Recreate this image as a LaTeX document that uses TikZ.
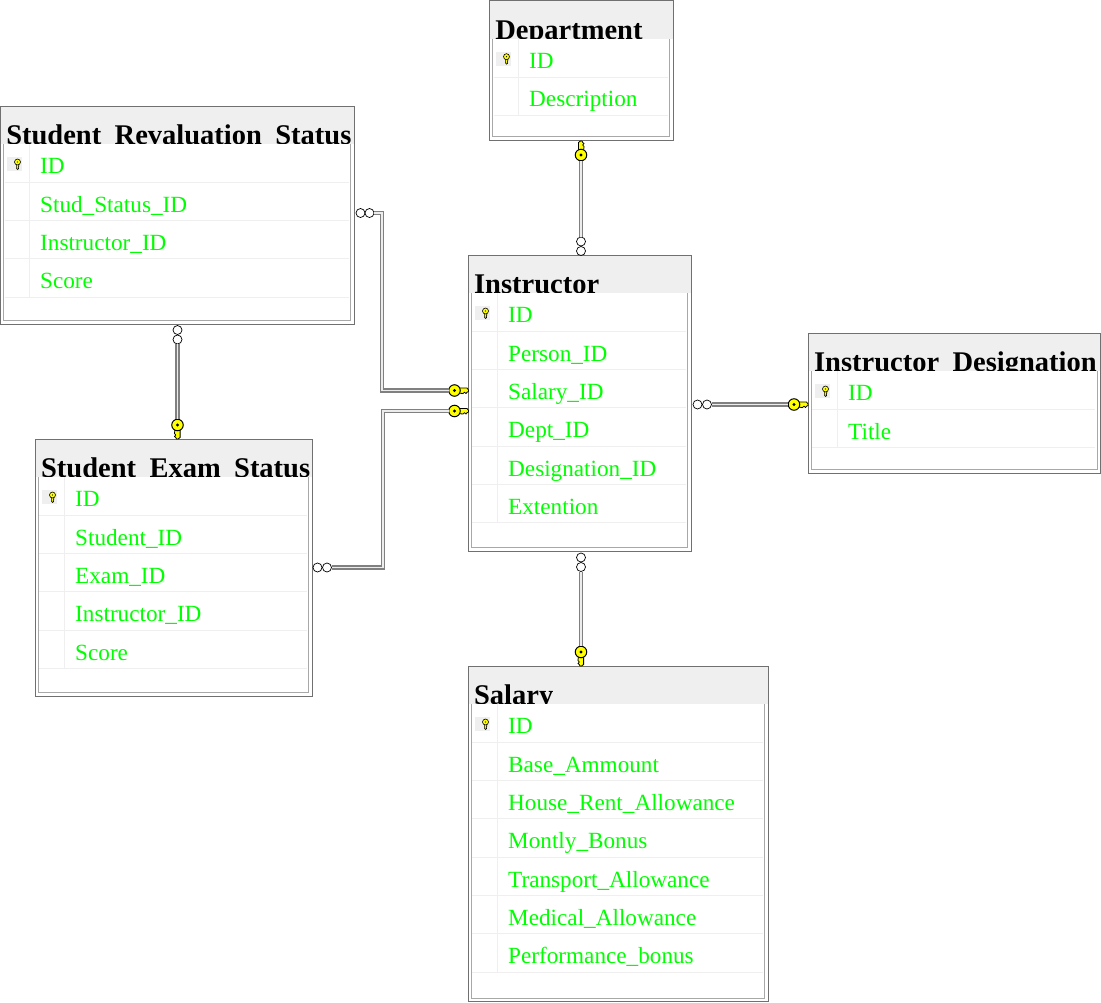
\documentclass[tikz,border=0pt]{standalone}
\usepackage{fontspec}
\setmainfont{Liberation Serif}
\usetikzlibrary{calc}
\definecolor{fieldgreen}{HTML}{00FF00}
\definecolor{headgray}{HTML}{EFEFEF}
\definecolor{outergray}{HTML}{707070}
\definecolor{innergray}{HTML}{A8A8A8}
\definecolor{keyyellow}{HTML}{FFFF00}
\tikzset{
  tableframe/.style={draw=outergray,line width=1pt,fill=white,rectangle,inner sep=0pt,outer sep=0pt},
  tabletitle/.style={anchor=base west,inner sep=0pt,font=\fontsize{28.5}{30}\selectfont\bfseries},
  fieldtext/.style={anchor=base west,inner sep=0pt,text=fieldgreen,font=\fontsize{23.2}{26}\selectfont},
  rowrule/.style={draw=headgray,line width=1pt},
  inframe/.style={draw=innergray,line width=1.1pt},
  crow/.style={circle,draw=black,fill=white,line width=0.7pt,minimum size=9pt,inner sep=0pt,outer sep=0pt},
  keybowl/.style={circle,draw=black,fill=keyyellow,line width=1pt,minimum size=11.5pt,inner sep=0pt,outer sep=0pt},
  link/.style={draw=gray,line width=1.3pt,double=white!85!gray,double distance=1.6pt},
  keyshaft/.style={draw=black,fill=keyyellow,line width=0.8pt,line join=round},
}
% key with its bowl node #1 at (#2,#3), shaft pointing in direction #4
\newcommand{\bigkey}[4]{%
  \begin{scope}[shift={(#2,#3)},rotate=#4]
    \path[keyshaft] (4,-2.6) -- (12.5,-2.6) -- (14,-0.5) -- (14,1) -- (12.5,1.7) -- (11.5,3) -- (10,1.7) -- (8.5,3) -- (4,2.6) -- cycle;
    \node[keybowl] (#1) at (0,0) {};
    \fill[black] (0,0) circle (1.7);
  \end{scope}}
% name, x0, y0, x1, y1, title, vx, field list
\newcommand{\dbtable}[8]{%
  \pgfmathsetmacro{\tw}{#4-#2}
  \pgfmathsetmacro{\th}{#5-#3}
  \pgfmathsetmacro{\hb}{#3+38}
  \node[tableframe,minimum width=\tw pt,minimum height=\th pt] (#1) at ({(#2+#4)/2},{(#3+#5)/2}) {};
  \fill[headgray] (#2+0.5,#3+0.5) rectangle (#4-0.5,\hb);
  \node[tabletitle] (#1title) at (#2+5.4,\hb+0.5) {\spaceskip=0.47em #6};
  \fill[white] (#2+3.2,\hb) rectangle (#4-3.2,#5-3.2);
  \draw[inframe] (#2+3.2,\hb) -- (#2+3.2,#5-3.2) -- (#4-3.2,#5-3.2) -- (#4-3.2,\hb);
  \fill[headgray] (#7-22,\hb+13) rectangle (#7-7,\hb+27);
  \begin{scope}[shift={(#7-11.5,\hb+18)}]
    \path[keyshaft,line width=0.6pt] (-1.2,2) -- (-1.2,6) -- (0,7.5) -- (1.2,6.5) -- (0.6,5.5) -- (1.2,4.5) -- (1.2,2) -- cycle;
    \filldraw[draw=black,fill=keyyellow,line width=0.6pt] (0,0) circle (3);
    \fill[black] (0,0) circle (0.7);
  \end{scope}
  \foreach \fld [count=\i] in {#8} {
    \pgfmathsetmacro{\ry}{\hb+38.3*\i}
    \pgfmathsetmacro{\by}{\ry-8.5}
    \draw[rowrule] (#2+3.8,\ry) -- (#4-5,\ry);
    \draw[rowrule] (#7,\ry-38.3) -- (#7,\ry);
    \node[fieldtext] (#1f\i) at (#7+11,\by) {\fld};
  }
}
\begin{document}
\begin{tikzpicture}[x=1pt,y=-1pt]
\useasboundingbox (0,0) rectangle (1101,1002);
\path[fill=white] (0,0) rectangle (1101,1002);

\dbtable{dept}{489.7}{0.7}{673}{140}{Department}{518}{ID,Description}
\dbtable{reval}{0.7}{106}{354}{324}{Student Revaluation Status}{29}{ID,Stud\_Status\_ID,Instructor\_ID,Score}
\dbtable{exam}{35.5}{439}{312}{696}{Student Exam Status}{64}{ID,Student\_ID,Exam\_ID,Instructor\_ID,Score}
\dbtable{instr}{468.5}{255}{691}{551}{Instructor}{497}{ID,Person\_ID,Salary\_ID,Dept\_ID,Designation\_ID,Extention}
\dbtable{desig}{808.5}{333}{1100.3}{473}{Instructor Designation}{837}{ID,Title}
\dbtable{sal}{468.5}{666}{768}{1001.3}{Salary}{497}{ID,Base\_Ammount,House\_Rent\_Allowance,Montly\_Bonus,Transport\_Allowance,Medical\_Allowance,Performance\_bonus}

% Department -- Instructor
\node[crow] (c1b) at (581,251) {};
\node[crow] (c1a) at (581,241.5) {};
\bigkey{k1}{581}{155}{90}
\draw[link] (k1) -- (c1a);

% Student Revaluation Status -- Instructor
\node[crow] (c2b) at (360.5,213) {};
\node[crow] (c2a) at (369.5,213) {};
\bigkey{k2}{454.5}{390.5}{0}
\draw[link] (c2a) -- (382,213) -- (382,390.5) -- (k2);

% Student Exam Status -- Instructor
\node[crow] (c3b) at (317.5,567.5) {};
\node[crow] (c3a) at (327,567.5) {};
\bigkey{k3}{454.5}{411}{0}
\draw[link] (c3a) -- (383,567.5) -- (383,411) -- (k3);

% Student Revaluation Status -- Student Exam Status
\node[crow] (c4b) at (177.5,330) {};
\node[crow] (c4a) at (177.5,339.5) {};
\bigkey{k4}{177.5}{425}{-90}
\draw[link] (c4a) -- (k4);

% Instructor -- Salary
\node[crow] (c5b) at (581,557.5) {};
\node[crow] (c5a) at (581,567) {};
\bigkey{k5}{581}{652}{-90}
\draw[link] (c5a) -- (k5);

% Instructor -- Instructor Designation
\node[crow] (c6b) at (697.5,404.5) {};
\node[crow] (c6a) at (707,404.5) {};
\bigkey{k6}{794}{404.5}{0}
\draw[link] (c6a) -- (k6);
\end{tikzpicture}
\end{document}
